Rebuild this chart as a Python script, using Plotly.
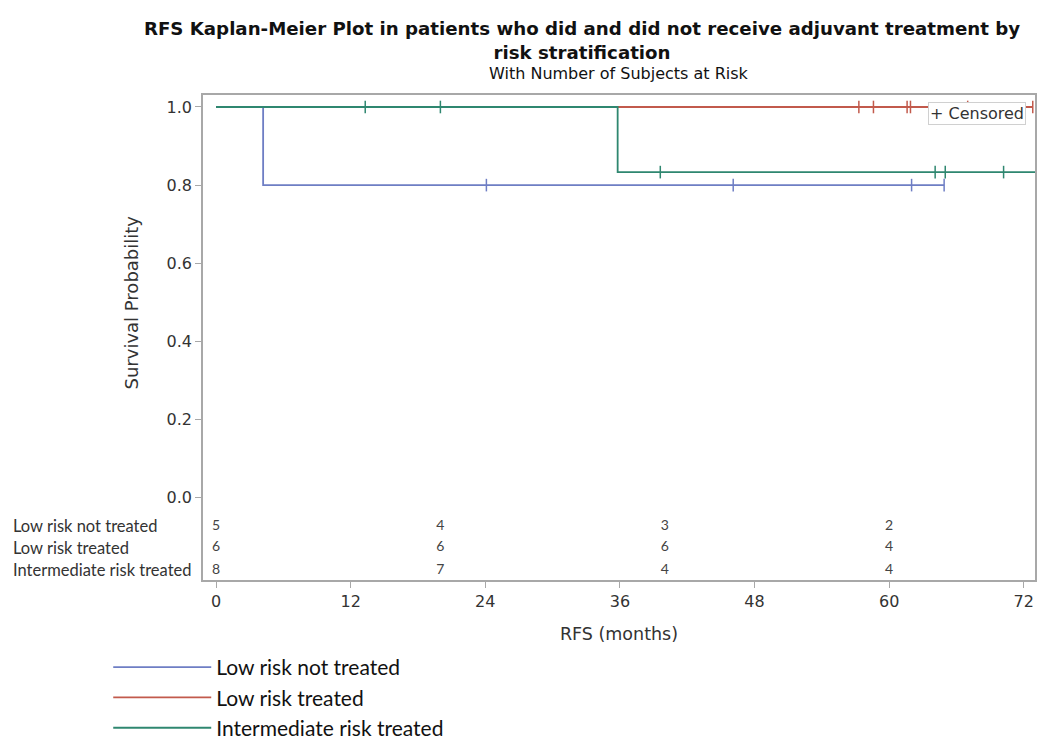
import plotly.graph_objects as go

# ---------------- data ----------------
month_ticks = [0, 12, 24, 36, 48, 60, 72]
surv_ticks = [0.0, 0.2, 0.4, 0.6, 0.8, 1.0]
groups = ["Low risk not treated", "Low risk treated", "Intermediate risk treated"]

# step curves (time in months, survival probability)
lrnt_time = [0, 4.2, 64.9]
lrnt_surv = [1.0, 0.8, 0.8]
lrnt_cens_time = [24.1, 46.1, 62.0, 64.9]
lrnt_cens_surv = [0.8, 0.8, 0.8, 0.8]

lrt_time = [0, 72.8]
lrt_surv = [1.0, 1.0]
lrt_cens_time = [57.3, 58.6, 61.6, 61.9, 67.0, 72.8]
lrt_cens_surv = [1.0, 1.0, 1.0, 1.0, 1.0, 1.0]

irt_time = [0, 35.8, 74.0]
irt_surv = [1.0, 0.8333, 0.8333]
irt_cens_time = [13.3, 20.0, 39.6, 64.1, 65.0, 70.2, 74.0]
irt_cens_surv = [1.0, 1.0, 0.8333, 0.8333, 0.8333, 0.8333, 0.8333]

# number at risk
risk_times = [0, 20, 40, 60]
at_risk_lrnt = [5, 4, 3, 2]
at_risk_lrt = [6, 6, 6, 4]
at_risk_irt = [8, 7, 4, 4]

# ---------------- style ----------------
colors = ["#6e7ec4", "#c25a4c", "#2f8770"]
AXIS = "#a8a8a8"
TXT = "#333333"
SASFONT = "DejaVu Sans"
risk_row_y = [-0.073, -0.129, -0.186]  # rows of the at-risk table inside the plot

curves = [
    (lrnt_time, lrnt_surv, lrnt_cens_time, lrnt_cens_surv, at_risk_lrnt),
    (lrt_time, lrt_surv, lrt_cens_time, lrt_cens_surv, at_risk_lrt),
    (irt_time, irt_surv, irt_cens_time, irt_cens_surv, at_risk_irt),
]

fig = go.Figure()
for i, (t, s, ct, cs, ar) in enumerate(curves):
    fig.add_trace(go.Scatter(
        x=t, y=s, mode="lines", line=dict(color=colors[i], width=1.8, shape="hv"),
        name=groups[i], legendgroup=groups[i], showlegend=True, hoverinfo="skip"))
    fig.add_trace(go.Scatter(
        x=ct, y=cs, mode="markers", name=groups[i] + " censored",
        legendgroup=groups[i], showlegend=False,
        marker=dict(symbol="line-ns", size=9, line=dict(color=colors[i], width=1.5))))

for i, (t, s, ct, cs, ar) in enumerate(curves):
    fig.add_trace(go.Scatter(
        x=risk_times, y=[risk_row_y[i]] * len(risk_times), mode="text",
        text=[str(v) for v in ar], textposition="middle center",
        textfont=dict(family="Lato", size=14, color="#444444"),
        showlegend=False, hoverinfo="skip"))

annotations = []
for i, g in enumerate(groups):
    annotations.append(dict(
        text=g, xref="paper", yref="y", x=(11 - 203) / 834, y=risk_row_y[i],
        xanchor="left", yanchor="middle", showarrow=False,
        font=dict(family="Lato", size=16.5, color="#333333")))

annotations.append(dict(
    text="With Number of Subjects at Risk", xref="paper", yref="paper",
    x=0.5, y=1 + 21 / 485, xanchor="center", yanchor="middle", showarrow=False,
    font=dict(family=SASFONT, size=16, color="#111111")))

annotations.append(dict(
    text="Survival Probability", xref="paper", yref="y", x=(131 - 203) / 834, y=0.5,
    xanchor="center", yanchor="middle", textangle=-90, showarrow=False,
    font=dict(family=SASFONT, size=18, color=TXT)))

annotations.append(dict(
    text="+ Censored", xref="paper", yref="paper",
    x=(1028 - 203) / 834, y=1 - (102 - 95) / 485, xanchor="right", yanchor="top",
    showarrow=False, bgcolor="white", bordercolor="#d0d0d0", borderwidth=1, borderpad=1,
    font=dict(family=SASFONT, size=16, color=TXT)))

fig.update_layout(
    width=1037, height=740,
    margin=dict(l=203, r=0, t=95, b=160),
    paper_bgcolor="white", plot_bgcolor="white",
    title=dict(
        text="<b>RFS Kaplan-Meier Plot in patients who did and did not receive adjuvant treatment by<br>risk stratification</b>",
        x=582 / 1037, xanchor="center", xref="container",
        y=1 - 35 / 740, yanchor="top", yref="container",
        font=dict(family=SASFONT, size=18.2, color="#111111")),
    xaxis=dict(
        range=[-1.16, 73.0], tickvals=month_ticks, ticktext=[str(v) for v in month_ticks],
        showgrid=False, zeroline=False, showline=True, linecolor=AXIS, linewidth=1.5,
        mirror=True, ticks="outside", ticklen=6, tickcolor=AXIS,
        tickfont=dict(family=SASFONT, size=16, color=TXT),
        title=dict(text="RFS (months)", standoff=18,
                   font=dict(family=SASFONT, size=17.5, color=TXT))),
    yaxis=dict(
        range=[-0.211, 1.0307], tickvals=surv_ticks,
        ticktext=["%.1f" % v for v in surv_ticks],
        showgrid=False, zeroline=False, showline=True, linecolor=AXIS, linewidth=1.5,
        mirror=True, ticks="outside", ticklen=6, tickcolor=AXIS,
        tickfont=dict(family=SASFONT, size=16, color=TXT)),
    legend=dict(
        xref="paper", yref="container",
        x=(108 - 203) / 834, y=1 - 647 / 740, xanchor="left", yanchor="top",
        orientation="v", itemwidth=98, tracegroupgap=0,
        font=dict(family="Lato", size=21, color="#111111"),
        bgcolor="rgba(0,0,0,0)"),
    annotations=annotations,
    showlegend=True,
)

fig.write_html("out.html", config={"displayModeBar": False},
               post_script="document.body.style.margin='0';document.body.style.overflow='hidden';")
